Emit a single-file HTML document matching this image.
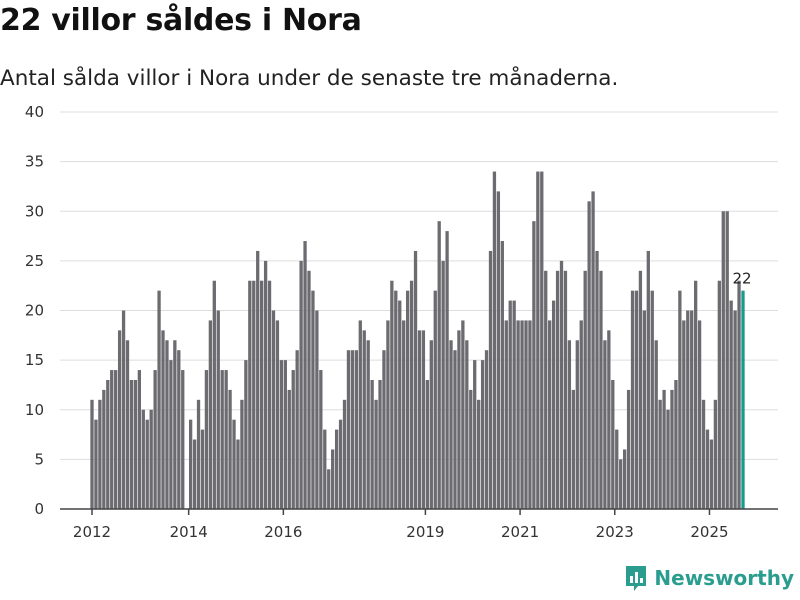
<!DOCTYPE html>
<html><head><meta charset="utf-8"><style>
body{margin:0;width:800px;height:600px;background:#fff;font-family:"DejaVu Sans","Liberation Sans",sans-serif;overflow:hidden;position:relative}
#title{position:absolute;left:0;top:3px;font-size:30px;font-weight:bold;color:#111;margin:0;letter-spacing:-0.3px}
#sub{position:absolute;left:0;top:66px;font-size:21.5px;color:#222;margin:0}
#logo{position:absolute;right:6px;bottom:8px;display:flex;align-items:center;gap:6px;font-size:20px;font-weight:bold;color:#2a9d8f}
</style></head><body>
<h1 id="title">22 villor såldes i Nora</h1>
<p id="sub">Antal sålda villor i Nora under de senaste tre månaderna.</p>
<svg id="chart" width="800" height="600" style="position:absolute;left:0;top:0"></svg>
<div id="logo">
<svg width="24" height="28" viewBox="0 0 24 28"><path d="M2 2h20v20h-8l-4 5v-5H2z" fill="#2a9d8f"/><rect x="6" y="12" width="3" height="7" fill="#fff"/><rect x="11" y="8" width="3" height="11" fill="#fff"/><rect x="16" y="14" width="3" height="5" fill="#fff"/></svg>
<span>Newsworthy</span></div>
<script>
const values=[11,9,11,12,13,14,14,18,20,17,13,13,
14,10,9,10,14,22,18,17,15,17,16,14,null,
9,7,11,8,14,19,23,20,14,14,12,9,7,
11,15,23,23,26,23,25,23,20,19,15,
15,12,14,16,25,27,24,22,20,14,8,4,
6,8,9,11,16,16,16,19,18,17,13,11,
13,16,19,23,22,21,19,22,23,26,18,18,
13,17,22,29,25,28,17,16,18,19,17,12,
15,11,15,16,26,34,32,27,19,21,21,19,
19,19,19,29,34,34,24,19,21,24,25,24,
17,12,17,19,24,31,32,26,24,17,18,13,
8,5,6,12,22,22,24,20,26,22,17,11,
12,10,12,13,22,19,20,20,23,19,11,8,
7,11,23,30,30,21,20,23,22];
const yTicks=[0,5,10,15,20,25,30,35,40];
const xTickLabels=["2012","2014","2016","2019","2021","2023","2025"];
const xTickIndex=[0,24.5,48.5,84.5,108.5,132.5,156.5];
const svg=document.getElementById('chart');
const NS='http://www.w3.org/2000/svg';
const x0=92,x1=743,y0=509,y1=112,yMax=40;
const step=(x1-x0)/(values.length-1);
const X=i=>x0+i*step;
const Y=v=>y0-(v/yMax)*(y0-y1);
function mk(t,a){const e=document.createElementNS(NS,t);for(const k in a)e.setAttribute(k,a[k]);svg.appendChild(e);return e;}
yTicks.forEach(t=>{
 if(t>0){const g=mk('line',{x1:60,x2:778,y1:Y(t),y2:Y(t),stroke:'#ddd','stroke-width':1});
 
 }
 const l=mk('text',{x:44,y:Y(t)+5,'text-anchor':'end','font-size':15,fill:'#333'});
 l.textContent=t;
 
 
});
values.forEach((v,i)=>{
 if(v===null)return;
 const last=i===values.length-1;
 const r=mk('rect',{x:X(i)-1.65,y:Y(v),width:3.3,height:y0-Y(v),fill:last?'#1a9a8c':'#6c6b70'});
 
 
});
const lv=values[values.length-1];
const lab=mk('text',{x:X(values.length-1)-1,y:Y(lv)-7,'text-anchor':'middle','font-size':15,fill:'#222'});
lab.textContent=lv;


const ax=mk('line',{x1:60,x2:778,y1:y0,y2:y0,stroke:'#444','stroke-width':1.5});


xTickLabels.forEach((s,k)=>{
 const xx=X(xTickIndex[k]);
 const tk=mk('line',{x1:xx,x2:xx,y1:y0,y2:y0+6,stroke:'#444','stroke-width':1.5});
 
 
 const t=mk('text',{x:xx,y:537,'text-anchor':'middle','font-size':15,fill:'#333'});
 t.textContent=s;
 
 
});
</script>
</body></html>
